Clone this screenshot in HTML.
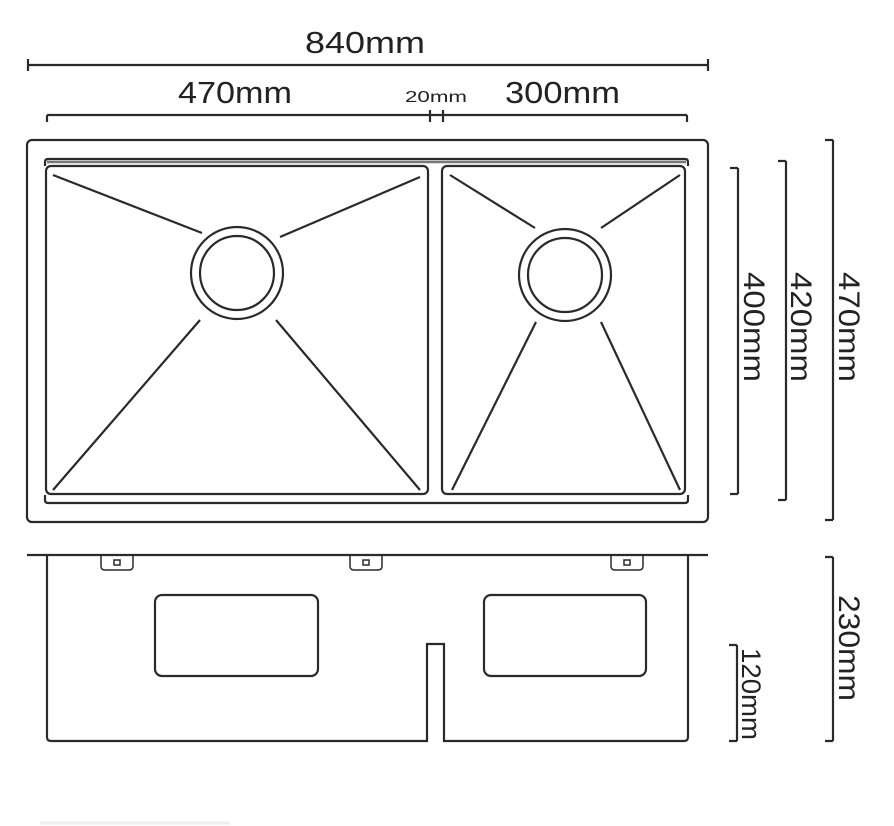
<!DOCTYPE html>
<html><head><style>html,body{margin:0;padding:0;background:#fff}svg{display:block}</style></head>
<body>
<svg width="894" height="826" viewBox="0 0 894 826" xmlns="http://www.w3.org/2000/svg" font-family="Liberation Sans, sans-serif">
<g stroke="#2a2a2a" fill="none" stroke-width="2.2">
<path d="M28 65H708M28 59V71M708 59V71"/>
<path d="M47 115H687M47 115V122M430 110V122M443 110V122M687 115V122"/>
<rect x="27" y="140" width="681" height="382" rx="5"/>
<path d="M45 166V162Q45 159 48 159H685Q688 159 688 162V166" />
<path d="M47 162H686" stroke="#777" stroke-width="2.5"/>
<path d="M45 495V500Q45 503 48 503H685Q688 503 688 500V495"/>
<rect x="46" y="166" width="382" height="328" rx="5"/>
<rect x="442" y="166" width="243" height="328" rx="5"/>
<circle cx="237" cy="273" r="46"/>
<circle cx="237" cy="273" r="37"/>
<path d="M53 175L202 233M420 177L280 237M200 320L53 490M276 320L420 490"/>
<circle cx="565" cy="275" r="46"/>
<circle cx="565" cy="275" r="37"/>
<path d="M450 175L535 228M680 175L601 228M536 322L452 490M601 322L680 490"/>
<path d="M738 168V494M730 168H738M730 494H738"/>
<path d="M786 161V500M778 161H786M778 500H786"/>
<path d="M833 140V520M825 140H833M825 520H833"/>
<path d="M27 555H708"/>
<path d="M47 555V737Q47 741 51 741H427V644H444V741H684Q688 741 688 737V555"/>
<rect x="155" y="595" width="163" height="81" rx="7"/>
<rect x="484" y="595" width="162" height="81" rx="7"/>
<g stroke-width="1.5">
<path d="M101 556V566Q101 570 105 570H129Q133 570 133 566V556"/>
<rect x="114" y="560" width="6" height="5"/>
<path d="M350 556V566Q350 570 354 570H378Q382 570 382 566V556"/>
<rect x="363" y="560" width="6" height="5"/>
<path d="M611 556V566Q611 570 615 570H639Q643 570 643 566V556"/>
<rect x="624" y="560" width="6" height="5"/>
</g>
<path d="M737 645V741M729 645H737M729 741H737"/>
<path d="M833 557V741M825 557H833M825 741H833"/>
<path d="M40 823H230" stroke="#eee" stroke-width="3"/>
</g>
<g fill="#222">
<text x="305" y="53" font-size="31" textLength="120" lengthAdjust="spacingAndGlyphs">840mm</text>
<text x="178" y="103" font-size="31" textLength="114" lengthAdjust="spacingAndGlyphs">470mm</text>
<text x="405" y="102" font-size="16" textLength="62" lengthAdjust="spacingAndGlyphs">20mm</text>
<text x="505" y="103" font-size="31" textLength="115" lengthAdjust="spacingAndGlyphs">300mm</text>
<text transform="translate(744 272) rotate(90)" font-size="30" textLength="110" lengthAdjust="spacingAndGlyphs">400mm</text>
<text transform="translate(791 272) rotate(90)" font-size="30" textLength="110" lengthAdjust="spacingAndGlyphs">420mm</text>
<text transform="translate(839 272) rotate(90)" font-size="30" textLength="110" lengthAdjust="spacingAndGlyphs">470mm</text>
<text transform="translate(742 648) rotate(90)" font-size="27" textLength="92" lengthAdjust="spacingAndGlyphs">120mm</text>
<text transform="translate(839 595) rotate(90)" font-size="30" textLength="106" lengthAdjust="spacingAndGlyphs">230mm</text>
</g>
</svg>
</body></html>
